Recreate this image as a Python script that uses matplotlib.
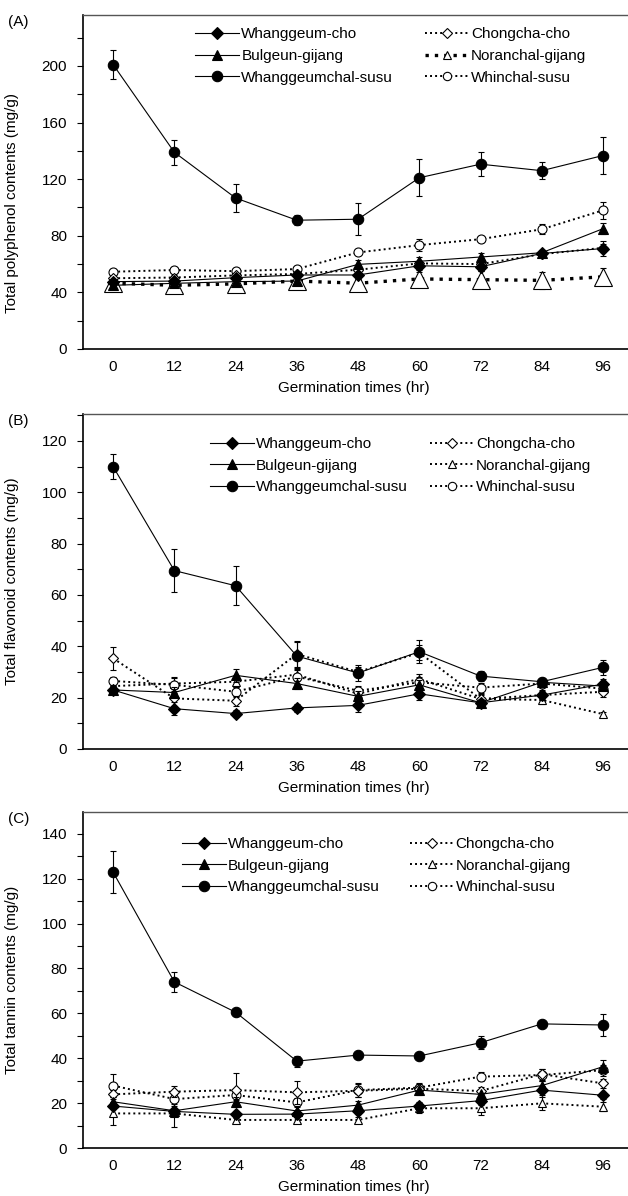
import matplotlib
matplotlib.use("Agg")
import matplotlib.pyplot as plt
from matplotlib.lines import Line2D
import numpy as np

plt.rcParams['font.family'] = ['Liberation Sans', 'DejaVu Sans']
plt.rcParams['font.size'] = 11

hours = [0, 12, 24, 36, 48, 60, 72, 84, 96]
varieties = ['Whanggeum-cho', 'Bulgeun-gijang', 'Whanggeumchal-susu',
             'Chongcha-cho', 'Noranchal-gijang', 'Whinchal-susu']

# (A) total polyphenol (mg/g)
poly_whanggeum_cho = [47.6, 48, 50.4, 52.3, 52.3, 58.8, 58.1, 67.5, 71]
poly_bulgeun = [45, 46.4, 47.6, 48, 59.8, 62, 65, 68, 85]
poly_whanggeumchal = [201, 139, 106.7, 91, 91.7, 121, 130.6, 126, 136.7]
poly_chongcha = [50, 50.5, 52, 53, 56, 60.5, 60, 67, 71.5]
poly_noranchal = [46.5, 45, 46, 48, 46.5, 49.5, 49, 48.5, 51]
poly_whinchal = [54.6, 55.8, 55, 56.5, 68.2, 73.4, 77.6, 84.6, 98]
poly_err = {
    'Whanggeum-cho': [1.5, 1.5, 2, 2, 2, 3, 3, 2, 5],
    'Bulgeun-gijang': [1.5, 1.5, 2, 2, 3, 3, 3, 2, 4],
    'Whanggeumchal-susu': [10.5, 9, 10, 3.5, 11.5, 13, 8.5, 6, 13],
    'Chongcha-cho': [1.5, 1.5, 1.5, 2, 2, 2, 2, 2, 3],
    'Noranchal-gijang': [2, 2, 2, 2, 3, 5, 6, 6, 6],
    'Whinchal-susu': [2, 2, 2, 2, 2, 4, 2, 3.5, 6],
}

# (B) total flavonoid (mg/g)
flav_whanggeum_cho = [23, 15.7, 13.8, 16, 17, 21.5, 18, 21, 25.3]
flav_bulgeun = [23, 22, 28.7, 25.5, 20.5, 25, 18, 26, 24.5]
flav_whanggeumchal = [110, 69.5, 63.6, 36.2, 29.6, 37.9, 28.4, 26.2, 31.8]
flav_chongcha = [35.3, 19.7, 18.8, 37, 30, 37.5, 19.5, 21, 22.3]
flav_noranchal = [24.5, 25.5, 26.2, 29, 21.5, 27.3, 19.5, 19.1, 13.6]
flav_whinchal = [26.5, 25, 22.3, 28.2, 22.7, 26, 23.9, 25.5, 23.5]
flav_err = {
    'Whanggeum-cho': [1.5, 2.5, 1.5, 1.5, 2.5, 2.5, 1.5, 1.5, 2],
    'Bulgeun-gijang': [1.5, 2, 2.5, 2, 2, 2, 1.5, 1.5, 2],
    'Whanggeumchal-susu': [5, 8.5, 7.5, 5.5, 3, 4.5, 2, 1.5, 3],
    'Chongcha-cho': [4.5, 3, 2, 5, 2, 3, 2, 2, 2],
    'Noranchal-gijang': [1.5, 2, 2, 2.5, 2, 2, 1.5, 1.5, 1],
    'Whinchal-susu': [1.5, 3, 2, 3, 2, 2, 2, 1.5, 1.5],
}

# (C) total tannin (mg/g)
tan_whanggeum_cho = [18.7, 16.3, 15, 15.1, 16.6, 18.7, 21.1, 25.8, 23.5]
tan_bulgeun = [20.6, 16.6, 20.6, 16.5, 19.1, 25.8, 23.9, 27.8, 36.2]
tan_whanggeumchal = [122.9, 74, 60.5, 38.7, 41.4, 41, 46.9, 55.3, 54.8]
tan_chongcha = [23.9, 25.1, 25.8, 24.8, 25.5, 26.4, 25.4, 32.9, 28.8]
tan_noranchal = [15.4, 15.4, 12.5, 12.5, 12.5, 17.7, 17.7, 19.9, 18.4]
tan_whinchal = [27.8, 21.8, 23.6, 20.3, 25.8, 26.9, 31.8, 32.5, 34.7]
tan_err = {
    'Whanggeum-cho': [1.5, 1.5, 1.5, 1.5, 1.5, 2, 2, 2, 1.5],
    'Bulgeun-gijang': [2, 2, 2, 2, 2, 2, 2, 2, 3],
    'Whanggeumchal-susu': [9.5, 4.5, 1.5, 2.5, 1.5, 1.5, 3, 1.5, 5],
    'Chongcha-cho': [2, 2.5, 7.5, 5, 3, 2, 2, 2.5, 2],
    'Noranchal-gijang': [5, 6, 1.5, 1.5, 1.5, 2, 3, 3, 2],
    'Whinchal-susu': [5, 2, 2, 2, 3, 2, 2, 2.5, 2.5],
}

panels = [
    {'tag': '(A)', 'ylabel': 'Total polyphenol contents (mg/g)',
     'data': [poly_whanggeum_cho, poly_bulgeun, poly_whanggeumchal,
              poly_chongcha, poly_noranchal, poly_whinchal],
     'err': poly_err, 'ylim': 236, 'major': 40, 'minor': 20},
    {'tag': '(B)', 'ylabel': 'Total flavonoid contents (mg/g)',
     'data': [flav_whanggeum_cho, flav_bulgeun, flav_whanggeumchal,
              flav_chongcha, flav_noranchal, flav_whinchal],
     'err': flav_err, 'ylim': 130.5, 'major': 20, 'minor': 10},
    {'tag': '(C)', 'ylabel': 'Total tannin contents (mg/g)',
     'data': [tan_whanggeum_cho, tan_bulgeun, tan_whanggeumchal,
              tan_chongcha, tan_noranchal, tan_whinchal],
     'err': tan_err, 'ylim': 149.7, 'major': 20, 'minor': 10},
]

dot = (0, (1, 1.6))
heavy = (0, (1, 1.8))

# styles per variety: line style, line width, marker, marker size, filled
styles = {
    'Whanggeum-cho': ('-', 0.8, 'D', 6, True),
    'Bulgeun-gijang': ('-', 0.8, '^', 7, True),
    'Whanggeumchal-susu': ('-', 0.8, 'o', 7.5, True),
    'Chongcha-cho': (dot, 1.4, 'D', 5.5, False),
    'Noranchal-gijang': (dot, 1.4, '^', 6, False),
    'Whinchal-susu': (dot, 1.4, 'o', 6.5, False),
}

fig = plt.figure(figsize=(6.28, 11.96), dpi=100)
W, H = 628, 1196
boxes = [(15, 349), (414, 749), (812, 1148)]
legend_pos = [(0.205, 0.963), (0.232, 0.931), (0.181, 0.925)]
col_space = [2.1, 1.45, 1.95]
label_y = [0.437, 0.5, 0.5]
left_px, right_px = 82.5, 633.6
draw_order = [4, 5, 3, 1, 0, 2]

for p, panel in enumerate(panels):
    top, bot = boxes[p]
    ax = fig.add_axes([left_px / W, (H - bot) / H, (right_px - left_px) / W, (bot - top) / H])
    for i in draw_order:
        name = varieties[i]
        ls, lw, mk, ms, filled = styles[name]
        if p == 0 and name == 'Noranchal-gijang':
            ls, lw, ms = heavy, 2.4, 13
        ax.errorbar(hours, panel['data'][i], yerr=panel['err'][name],
                    color='black', linestyle=ls, linewidth=lw,
                    marker=mk, markersize=ms,
                    markerfacecolor='black' if filled else 'white',
                    markeredgecolor='black', markeredgewidth=0.8,
                    ecolor='black', elinewidth=0.8, capsize=2.5, capthick=0.8,
                    zorder=3 + draw_order.index(i) * 0.1)

    handles = []
    for name in varieties:
        ls, lw, mk, ms, filled = styles[name]
        if p == 0 and name == 'Noranchal-gijang':
            ls, lw = heavy, 2.4
        handles.append(Line2D([], [], color='black', linestyle=ls, linewidth=lw,
                              marker=mk, markersize=ms if filled else ms - 0.5,
                              markerfacecolor='black' if filled else 'white',
                              markeredgecolor='black', markeredgewidth=0.8))
    ax.legend(handles, varieties, ncol=2, frameon=False, loc='upper left',
              bbox_to_anchor=legend_pos[p], borderpad=0, borderaxespad=0,
              handlelength=2.85, handletextpad=0.15, columnspacing=col_space[p],
              labelspacing=0.5, fontsize=11)

    ax.set_xlim(-6, 102)
    ax.set_ylim(0, panel['ylim'])
    ax.set_xticks(hours)
    ax.set_yticks(np.arange(0, panel['ylim'], panel['major']))
    ax.set_yticks(np.arange(0, panel['ylim'], panel['minor']), minor=True)
    ax.tick_params(axis='x', length=0, pad=8, labelsize=11)
    ax.tick_params(axis='y', which='both', direction='out', length=4, width=0.8,
                   pad=7, labelsize=11)
    ax.spines['left'].set_linewidth(1.2)
    ax.spines['bottom'].set_linewidth(1.2)
    ax.spines['top'].set_linewidth(1.0)
    ax.spines['top'].set_color('#555555')
    ax.spines['right'].set_visible(False)

    ax.set_xlabel('Germination times (hr)', fontsize=11)
    ax.xaxis.set_label_coords(0.493, -0.095)
    ax.set_ylabel(panel['ylabel'], fontsize=11)
    ax.yaxis.set_label_coords(-0.115, label_y[p])

    fig.text(8 / W, 1 - (top + 7) / H, panel['tag'], fontsize=11, va='center', ha='left')

fig.savefig('out.png', dpi=100)
